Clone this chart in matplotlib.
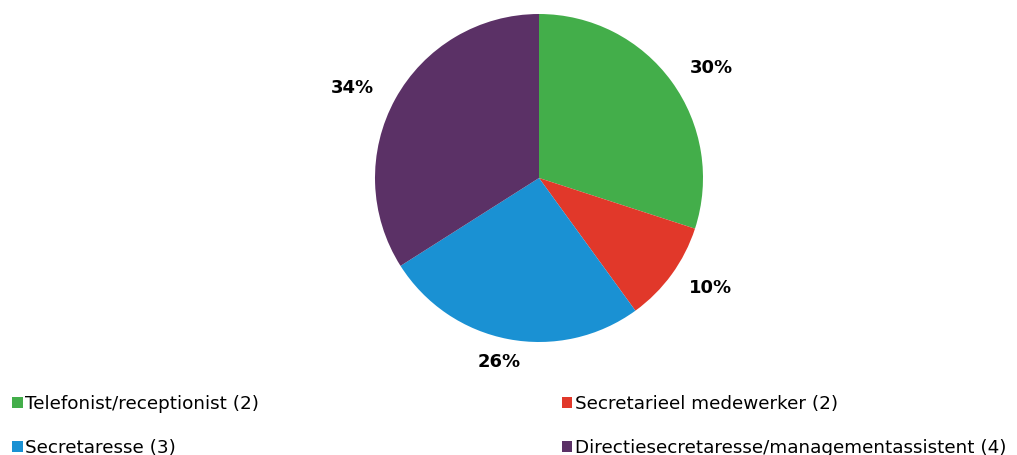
import matplotlib
matplotlib.use("Agg")
import matplotlib.pyplot as plt
from matplotlib.patches import Patch

categories = ["Telefonist/receptionist (2)", "Secretarieel medewerker (2)",
              "Secretaresse (3)", "Directiesecretaresse/managementassistent (4)"]
values = [30, 10, 26, 34]
colors = ["#43AE4A", "#E1382A", "#1A91D3", "#5B3166"]

plt.rcParams['font.family'] = ['DejaVu Sans']
fig = plt.figure(figsize=(10.17, 4.55), dpi=100)
W, H = 1017, 455
cx, cy, r = 539, 178, 164
ax = fig.add_axes([(cx - r) / W, (H - cy - r) / H, 2 * r / W, 2 * r / H])
wedges, texts, autotexts = ax.pie(values, colors=colors, startangle=90, counterclock=False,
                                  autopct='%1.0f%%', pctdistance=1.2, radius=1,
                                  wedgeprops=dict(linewidth=0),
                                  textprops=dict(fontsize=13, fontweight='bold', color='black'))
for t in autotexts:
    x, y = t.get_position()
    t.set_position((x * 1.08, y * 0.95))
ax.set_xlim(-1, 1)
ax.set_ylim(-1, 1)
ax.set_aspect('equal')
ax.axis('off')

order = [0, 2, 1, 3]
handles = [Patch(facecolor=colors[i], edgecolor='none') for i in order]
labels = [categories[i] for i in order]
fig.legend(handles, labels, ncol=2, loc='upper left', bbox_to_anchor=(0.005, 0.147),
           frameon=False, fontsize=13.2, handlelength=0.55, handleheight=0.55,
           handletextpad=0.15, columnspacing=16.5, labelspacing=1.37, borderaxespad=0)
fig.savefig("out.png", dpi=100)
